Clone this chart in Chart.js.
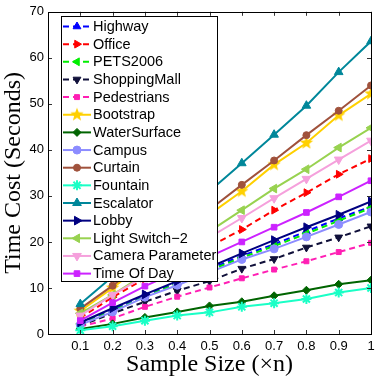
<!DOCTYPE html>
<html>
<head>
<meta charset="utf-8">
<script src="https://cdn.jsdelivr.net/npm/chart.js@4.4.1/dist/chart.umd.min.js"></script>
<style>
  html, body { margin: 0; padding: 0; background: #fff; }
</style>
</head>
<body>
<canvas id="timeChart" width="382" height="378"></canvas>
<script>
// sample sizes (x n)
const sampleSizes = [0.1, 0.2, 0.3, 0.4, 0.5, 0.6, 0.7, 0.8, 0.9, 1];
const yTicks = [0, 10, 20, 30, 40, 50, 60, 70];

// time cost in seconds, one array per sequence
const highway      = [2.3, 5.2, 8.3, 11.2, 14.1, 17.0, 19.5, 22.3, 25.1, 27.7];
const office       = [3.5, 8.0, 12.0, 15.3, 19.0, 22.7, 26.9, 30.7, 34.7, 38.1];
const pets2006     = [2.2, 5.0, 8.1, 11.0, 13.8, 16.6, 19.1, 21.8, 24.6, 27.4];
const shoppingMall = [1.8, 4.5, 7.0, 9.4, 11.5, 14.2, 16.3, 18.8, 21.0, 23.4];
const pedestrians  = [1.6, 3.4, 5.9, 8.1, 10.1, 12.1, 14.0, 15.8, 17.8, 19.8];
const bootstrap    = [5.0, 10.0, 15.5, 20.5, 26.0, 31.0, 36.8, 41.5, 47.5, 52.2];
const waterSurface = [1.1, 2.2, 3.6, 4.8, 6.1, 7.0, 8.3, 9.5, 10.8, 11.7];
const campus       = [2.0, 4.8, 8.0, 10.6, 13.4, 16.2, 18.5, 21.1, 23.8, 26.5];
const curtain      = [5.5, 10.5, 16.0, 21.5, 27.0, 32.4, 37.7, 43.2, 48.5, 54.0];
const fountain     = [0.8, 1.7, 2.9, 4.0, 4.7, 5.9, 6.7, 7.6, 9.0, 10.0];
const escalator    = [6.5, 12.5, 19.0, 25.0, 31.0, 37.1, 43.3, 49.6, 56.9, 63.6];
const lobby        = [2.5, 5.6, 8.6, 11.5, 14.5, 17.5, 20.4, 23.2, 25.9, 28.8];
const lightSwitch2 = [4.5, 8.5, 13.0, 17.5, 22.3, 26.9, 31.6, 35.8, 40.5, 44.8];
const cameraParam  = [4.0, 8.5, 12.5, 16.5, 21.0, 25.2, 29.5, 33.7, 37.9, 42.0];
const timeOfDay    = [2.9, 6.8, 10.4, 13.5, 16.8, 20.0, 23.2, 26.4, 29.8, 33.3];

// 5-point star marker (matlab 'p')
function makeStar(color, r) {
  const c = document.createElement('canvas');
  c.width = c.height = r * 2 + 2;
  const g = c.getContext('2d');
  g.fillStyle = color;
  g.beginPath();
  for (let i = 0; i < 10; i++) {
    const rad = i % 2 ? r * 0.42 : r;
    const a = -Math.PI / 2 + i * Math.PI / 5;
    g.lineTo(r + 1 + rad * Math.cos(a), r + 1 + rad * Math.sin(a));
  }
  g.closePath();
  g.fill();
  return c;
}

const dashed = [6, 4];
const series = [
  { label: 'Highway', data: highway, color: '#0000ff', dash: dashed, style: 'triangle', rot: 0, r: 4.5 },
  { label: 'Office', data: office, color: '#ff0000', dash: dashed, style: 'triangle', rot: 90, r: 4.5 },
  { label: 'PETS2006', data: pets2006, color: '#00ee00', dash: dashed, style: 'triangle', rot: 270, r: 4.5 },
  { label: 'ShoppingMall', data: shoppingMall, color: '#10103a', dash: dashed, style: 'triangle', rot: 180, r: 4.5 },
  { label: 'Pedestrians', data: pedestrians, color: '#ff1fb4', dash: dashed, style: 'rect', rot: 0, r: 3.5 },
  { label: 'Bootstrap', data: bootstrap, color: '#ffd000', dash: [], style: makeStar('#ffd000', 7), rot: 0, r: 6 },
  { label: 'WaterSurface', data: waterSurface, color: '#006400', dash: [], style: 'rectRot', rot: 0, r: 4 },
  { label: 'Campus', data: campus, color: '#8c8cff', dash: [], style: 'circle', rot: 0, r: 4 },
  { label: 'Curtain', data: curtain, color: '#a0523c', dash: [], style: 'circle', rot: 0, r: 3.5 },
  { label: 'Fountain', data: fountain, color: '#1affc6', dash: [], style: 'star', rot: 0, r: 5 },
  { label: 'Escalator', data: escalator, color: '#00879a', dash: [], style: 'triangle', rot: 0, r: 5 },
  { label: 'Lobby', data: lobby, color: '#000080', dash: [], style: 'triangle', rot: 90, r: 5 },
  { label: 'Light Switch\u22122', data: lightSwitch2, color: '#98d250', dash: [], style: 'triangle', rot: 270, r: 5 },
  { label: 'Camera Parameter', data: cameraParam, color: '#f5a0dc', dash: [], style: 'triangle', rot: 180, r: 5 },
  { label: 'Time Of Day', data: timeOfDay, color: '#cc22ff', dash: [], style: 'rect', rot: 0, r: 4 }
];

const datasets = series.map((s, i) => ({
  label: s.label,
  data: sampleSizes.map((x, k) => ({ x: x, y: s.data[k] })),
  borderColor: s.color,
  backgroundColor: s.color,
  borderWidth: 2,
  borderDash: s.dash,
  pointStyle: s.style,
  pointRotation: s.rot,
  pointRadius: s.r,
  pointBackgroundColor: s.color,
  pointBorderColor: s.color,
  pointBorderWidth: s.style === 'star' ? 2 : 1,
  tension: 0,
  order: -i
}));

// inward ticks + box frame, matlab style
const frame = {
  id: 'frame',
  afterDatasetsDraw(chart) {
    const { ctx, chartArea: a, scales } = chart;
    ctx.save();
    ctx.strokeStyle = '#333';
    ctx.lineWidth = 1;
    ctx.beginPath();
    scales.x.ticks.forEach(t => {
      if (t.value <= 0) return;
      const px = Math.round(scales.x.getPixelForValue(t.value)) + 0.5;
      ctx.moveTo(px, a.bottom); ctx.lineTo(px, a.bottom - 4);
      ctx.moveTo(px, a.top); ctx.lineTo(px, a.top + 4);
    });
    scales.y.ticks.forEach(t => {
      const py = Math.round(scales.y.getPixelForValue(t.value)) + 0.5;
      ctx.moveTo(a.left, py); ctx.lineTo(a.left + 4, py);
      ctx.moveTo(a.right, py); ctx.lineTo(a.right - 4, py);
    });
    ctx.stroke();
    ctx.strokeStyle = '#000';
    ctx.strokeRect(Math.round(a.left) + 0.5, Math.round(a.top) + 0.5,
      Math.round(a.right - a.left), Math.round(a.bottom - a.top));
    ctx.restore();
  }
};

// legend box drawn inside the plot, top-left
const boxLegend = {
  id: 'boxLegend',
  afterDraw(chart) {
    const { ctx, chartArea: a } = chart;
    const left = Math.round(a.left) + 13, top = Math.round(a.top) + 4;
    const w = 156, rowH = 17.65;
    const h = Math.round(rowH * chart.data.datasets.length) + 0;
    ctx.save();
    ctx.fillStyle = '#fff';
    ctx.fillRect(left, top, w, h);
    ctx.strokeStyle = '#000';
    ctx.lineWidth = 1;
    ctx.strokeRect(left + 0.5, top + 0.5, w, h);
    chart.data.datasets.forEach((ds, i) => {
      const y = top + 10.5 + i * rowH;
      ctx.strokeStyle = ds.borderColor;
      ctx.lineWidth = 2;
      ctx.setLineDash(ds.borderDash);
      ctx.beginPath();
      ctx.moveTo(left + 2, y);
      ctx.lineTo(left + 30, y);
      ctx.stroke();
      ctx.setLineDash([]);
      ctx.fillStyle = ds.pointBackgroundColor;
      ctx.strokeStyle = ds.pointBorderColor;
      ctx.lineWidth = ds.pointBorderWidth;
      Chart.helpers.drawPoint(ctx, {
        pointStyle: ds.pointStyle,
        rotation: ds.pointRotation,
        radius: ds.pointRadius,
        borderWidth: ds.pointBorderWidth
      }, left + 16, y);
      ctx.fillStyle = '#000';
      ctx.font = '14.5px "Liberation Sans", Arial, sans-serif';
      ctx.textBaseline = 'middle';
      ctx.fillText(ds.label, left + 32, y + 0.5);
    });
    ctx.restore();
  }
};

const ctx = document.getElementById('timeChart').getContext('2d');
new Chart(ctx, {
  type: 'line',
  data: { datasets: datasets },
  options: {
    responsive: false,
    animation: false,
    layout: { padding: { top: 11, right: 11, left: 0, bottom: 0 } },
    plugins: { legend: { display: false }, tooltip: { enabled: false } },
    scales: {
      x: {
        type: 'linear',
        min: 0,
        max: 1,
        grid: { display: false, drawTicks: false },
        border: { display: false },
        afterFit: s => { s.height = 44; },
        ticks: {
          stepSize: 0.1,
          padding: 5,
          color: '#000',
          maxRotation: 0,
          font: { family: '"Liberation Sans", Arial, sans-serif', size: 13 },
          callback: v => (v <= 0 ? '' : String(+v.toFixed(1)))
        },
        title: {
          display: true,
          text: 'Sample Size (\u00d7n)',
          color: '#000',
          padding: { top: 0, bottom: 1 },
          font: { family: '"Liberation Serif", "Times New Roman", serif', size: 24, lineHeight: 1 }
        }
      },
      y: {
        min: 0,
        max: 70,
        grid: { display: false, drawTicks: false },
        border: { display: false },
        afterFit: s => { s.width = 48; },
        afterBuildTicks: s => { s.ticks = yTicks.map(v => ({ value: v })); },
        ticks: {
          padding: 4,
          color: '#000',
          font: { family: '"Liberation Sans", Arial, sans-serif', size: 13 }
        },
        title: {
          display: true,
          text: 'Time Cost (Seconds)',
          color: '#000',
          padding: { top: 2, bottom: 0 },
          font: { family: '"Liberation Serif", "Times New Roman", serif', size: 24, lineHeight: 1 }
        }
      }
    }
  },
  plugins: [frame, boxLegend]
});
</script>
</body>
</html>
